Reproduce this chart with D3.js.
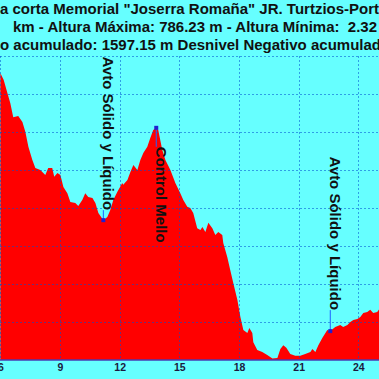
<!DOCTYPE html>
<html><head><meta charset="utf-8">
<script src="https://cdn.jsdelivr.net/npm/d3@7"></script>
<style>html,body{margin:0;padding:0;background:#66ffff;overflow:hidden}</style>
</head><body><svg id="c" width="379" height="379"></svg>
<script>
// ---- data ----
const distKm = [6.00,6.17,6.34,6.50,6.65,6.90,7.11,7.26,7.41,7.61,7.76,8.01,8.26,8.41,8.61,8.71,8.87,9.02,9.17,9.37,9.52,9.77,9.92,10.12,10.27,10.42,10.63,10.78,10.93,11.18,11.38,11.53,11.68,11.88,12.13,12.18,12.39,12.54,12.69,12.89,13.04,13.19,13.39,13.54,13.69,13.84,13.94,14.14,14.30,14.55,14.80,15.05,15.20,15.40,15.55,15.70,15.90,16.06,16.16,16.31,16.46,16.66,16.81,16.96,17.16,17.21,17.41,17.56,17.71,17.92,18.07,18.22,18.42,18.52,18.67,18.72,18.92,19.17,19.42,19.68,19.93,20.08,20.23,20.38,20.58,20.83,21.08,21.33,21.59,21.69,21.84,21.99,22.19,22.44,22.59,22.84,23.09,23.24,23.45,23.60,23.75,23.95,24.10,24.25,24.45,24.60,24.75,24.95,25.10];
const elevM = [755,737,705,676,639,642,626,600,561,526,505,500,487,505,505,482,492,487,455,439,416,413,405,421,439,429,426,413,387,368,376,395,421,442,466,461,474,495,513,500,526,545,561,584,605,611,605,553,526,500,466,439,421,403,400,387,347,342,350,337,361,347,329,337,329,308,271,237,203,158,113,79,71,84,71,47,26,21,13,4,5,29,39,32,16,11,11,16,21,29,21,39,58,79,76,87,92,87,92,100,105,108,113,124,126,132,124,126,137];
const xTicks = [6,9,12,15,18,21,24];
const yGrid = [100,200,300,400,500,600,700,800];
const titleLines = [
  "a corta Memorial \"Joserra Romaña\" JR. Turtzios-Port",
  "km - Altura Máxima: 786.23 m - Altura Mínima:  2.32",
  "o acumulado: 1597.15 m Desnivel Negativo acumulado"
];
const poiNames = ["Avto Sólido y Líquido","Control Mello","Avto Sólido y Líquido"];
const poiKm = [11.18, 13.84, 22.59];
const poiElev = [368, 611, 76];
const poiSide = ["above","below","above"];

// ---- layout ----
const W = 379, H = 379;
const svg = d3.select("#c");
const x = d3.scaleLinear().domain([6, 25.04]).range([0.33, 379]);
const y = d3.scaleLinear().domain([0, 800]).range([360, 56]);
const labelGap = [10, 19, 21];
const titleX = [0, 13, 0];
const titleY = [13.5, 31.8, 50];

svg.append("rect").attr("width", W).attr("height", H).attr("fill", "#66ffff");

const pts = distKm.map((d, i) => [d, elevM[i]]);
svg.append("path").datum(pts)
  .attr("fill", "#ff0000")
  .attr("d", d3.area().x(d => x(d[0])).y0(y(0)).y1(d => y(d[1])));

// grid
const grid = svg.append("g").attr("stroke", "#0050d0").attr("stroke-opacity", 0.55)
  .attr("stroke-dasharray", "2,2").attr("stroke-width", 1);
grid.selectAll(".v").data(xTicks).join("line")
  .attr("x1", d => Math.round(x(d)) + 0.5).attr("x2", d => Math.round(x(d)) + 0.5)
  .attr("y1", y(800)).attr("y2", y(0));
grid.selectAll(".h").data(yGrid).join("line")
  .attr("x1", 0).attr("x2", W)
  .attr("y1", d => Math.round(y(d)) + 0.5).attr("y2", d => Math.round(y(d)) + 0.5);

// x axis
const ax = svg.append("g").attr("transform", `translate(0,${y(0)})`)
  .call(d3.axisBottom(x).tickValues(xTicks).tickSize(0).tickPadding(3.5).tickFormat(d3.format("d")));
ax.select(".domain").attr("stroke", "#4a3ab0").attr("stroke-width", 1.5).attr("d", `M0,0H${W}`);
ax.selectAll("text").attr("font-family", "'Liberation Sans Narrow','Arial Narrow','Liberation Sans',Arial,sans-serif")
  .attr("font-weight", "bold").attr("font-size", 10.5).attr("fill", "#1a1a40");

// POIs
poiKm.forEach((k, i) => {
  const px = x(k), py = y(poiElev[i]);
  const ty = poiSide[i] === "above" ? py - labelGap[i] : py + labelGap[i];
  svg.append("line").attr("x1", px).attr("x2", px).attr("y1", py).attr("y2", ty)
    .attr("stroke", "#2060ff").attr("stroke-width", 1);
  svg.append("rect").attr("x", px - 2).attr("y", py - 2).attr("width", 4).attr("height", 4)
    .attr("fill", "#2020d0");
  svg.append("text").attr("transform", `translate(${px},${ty}) rotate(90)`)
    .attr("text-anchor", poiSide[i] === "above" ? "end" : "start")
    .attr("font-family", "'Liberation Sans',Arial,sans-serif").attr("font-weight", "bold")
    .attr("font-size", 15).attr("fill", "#111")
    .text(poiNames[i]);
});

// titles
svg.selectAll(".title").data(titleLines).join("text")
  .attr("x", (d, i) => titleX[i]).attr("y", (d, i) => titleY[i])
  .attr("font-family", "'Liberation Sans',Arial,sans-serif").attr("font-weight", "bold")
  .attr("font-size", 15).attr("fill", "#111").style("white-space", "pre")
  .text(d => d);
</script></body></html>
